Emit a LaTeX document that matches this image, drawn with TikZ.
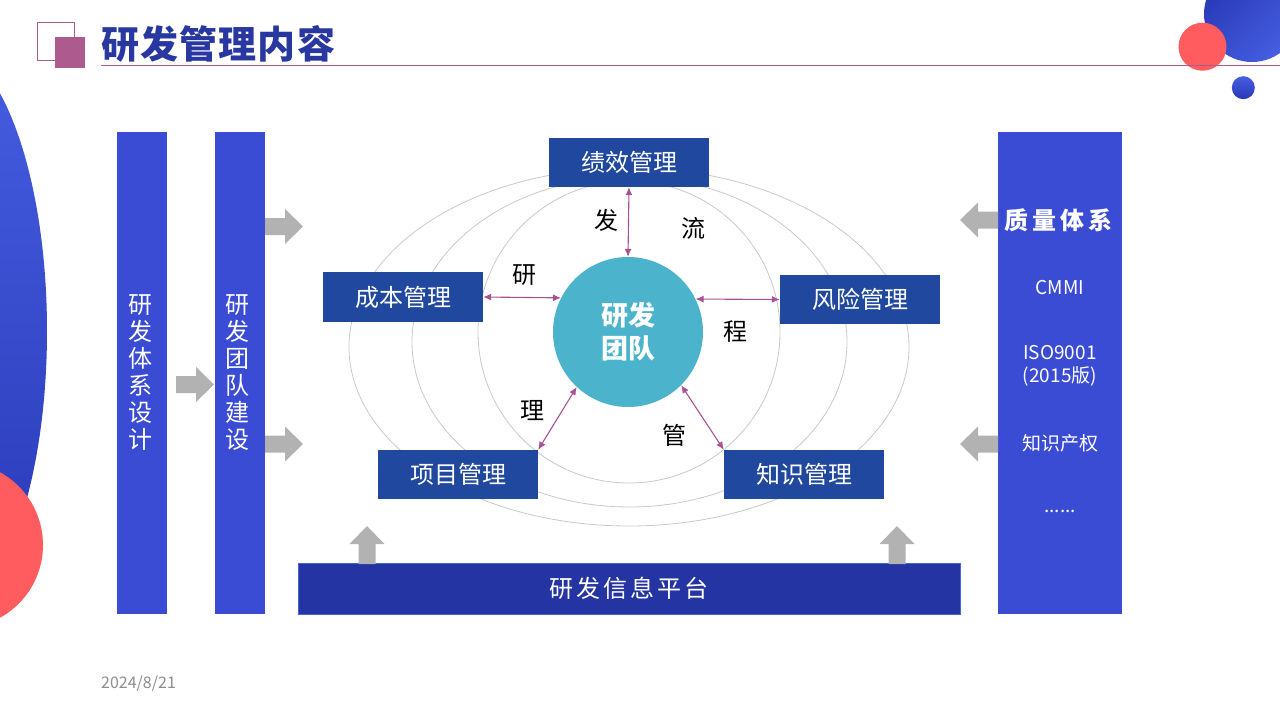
\documentclass[tikz,border=0pt]{standalone}
\usepackage{fontspec}
\setmainfont{Noto Sans CJK SC}
\usetikzlibrary{arrows.meta}
\definecolor{boxblue}{RGB}{31,72,158}
\definecolor{barblue}{RGB}{59,76,212}
\definecolor{platblue}{RGB}{36,53,163}
\definecolor{platedge}{RGB}{70,100,215}
\definecolor{teamteal}{RGB}{75,179,203}
\definecolor{linkmag}{RGB}{168,82,148}
\definecolor{ringgray}{RGB}{200,200,200}
\definecolor{arrowgray}{RGB}{178,178,178}
\definecolor{titleblue}{RGB}{40,56,160}
\definecolor{accentmag}{RGB}{173,90,142}
\definecolor{decored}{RGB}{255,92,96}
\definecolor{decobluetop}{RGB}{70,94,226}
\definecolor{decobluebot}{RGB}{40,56,182}
\definecolor{dategray}{RGB}{140,140,140}
\tikzset{
  mgmt/.style={fill=boxblue, text=white, minimum width=160pt, minimum height=49pt, inner sep=0pt, font=\fontsize{24}{28}\selectfont},
  ring/.style={draw=ringgray, line width=0.8pt},
  link/.style={draw=linkmag, line width=1.1pt, {Latex[length=8pt,width=7pt]}-{Latex[length=8pt,width=7pt]}},
  lbl/.style={inner sep=0pt, text=black, font=\fontsize{24}{28}\selectfont},
  bar/.style={fill=barblue, inner sep=0pt, minimum width=50pt, minimum height=482pt},
  bartxt/.style={text=white, inner sep=0pt, align=center, font=\fontsize{24}{27}\selectfont},
  paneltxt/.style={inner sep=0pt, text=white, align=center, font=\fontsize{19}{23}\selectfont},
  garrow/.pic={\fill[arrowgray] (-20,-8.5) -- (0,-8.5) -- (0,-17.5) -- (18,0) -- (0,17.5) -- (0,8.5) -- (-20,8.5) -- cycle;}
}
\begin{document}
\begin{tikzpicture}[x=1pt,y=-1pt]
\useasboundingbox (0,0) rectangle (1280,720);
% background decorations
\shade[top color=decobluetop, bottom color=decobluebot] (-60,331) ellipse[x radius=107pt, y radius=287pt];
\fill[decored] (-40,545) circle[radius=83pt];
\shade[left color=decobluebot, right color=decobluetop, shading angle=45] (1252,14) circle[radius=48pt];
\fill[decored] (1202.5,46.7) circle[radius=24pt];
\shade[top color=decobluetop, bottom color=decobluebot] (1243.3,87.7) circle[radius=11.5pt];
% title
\draw[accentmag, line width=0.8pt] (37,22) rectangle (74,60);
\fill[accentmag] (55,37) rectangle (85,68);
\node[anchor=west, inner sep=0pt, text=titleblue, font=\bfseries\fontsize{38}{40}\selectfont] (title) at (101,44) {研\kern1.2pt 发\kern1.2pt 管\kern1.2pt 理\kern1.2pt 内\kern1.2pt 容};
\coordinate (ulA) at (101,65.5);
\coordinate (ulB) at (1280,65.5);
\draw[accentmag, line width=1pt] (ulA) -- (ulB);
% rings
\draw[ring] (629,347) ellipse[x radius=280pt, y radius=179pt];
\draw[ring] (629.5,342) ellipse[x radius=217.5pt, y radius=165pt];
\draw[ring] (629,332) ellipse[x radius=151pt, y radius=151pt];
% boxes
\node[mgmt] (jx) at (629,162.5) {绩效管理};
\node[mgmt, minimum height=50pt] (cb) at (403,297) {成本管理};
\node[mgmt] (fx) at (860,299.5) {风险管理};
\node[mgmt] (xm) at (458,474.5) {项目管理};
\node[mgmt] (zs) at (804,474.5) {知识管理};
\node[circle, fill=teamteal, minimum size=150pt, inner sep=0pt, text=white, align=center, font=\bfseries\fontsize{27}{33}\selectfont] (team) at (628,332) {研发\\团队};
% links
\draw[link] (jx.south) -- (team.north);
\draw[link] (cb.east) -- (team.153);
\draw[link] (fx.west) -- (team.26);
\draw[link] (xm.north east) -- (team.227);
\draw[link] (zs.north west) -- (team.315);
% ring labels
\node[lbl] (c1) at (524,275) {研};
\node[lbl] (c2) at (606,220) {发};
\node[lbl] (c3) at (693,228) {流};
\node[lbl] (c4) at (735,332) {程};
\node[lbl] (c5) at (532,411) {理};
\node[lbl] (c6) at (674,435) {管};
% left bars
\node[bar] (b1) at (142,373) {};
\node[bartxt] (b1t) at (140,373) {研\\发\\体\\系\\设\\计};
\node[bar] (b2) at (240,373) {};
\node[bartxt] (b2t) at (237.5,373) {研\\发\\团\\队\\建\\设};
% right panel
\node[fill=barblue, inner sep=0pt, minimum width=124pt, minimum height=482pt] (qs) at (1060,373) {};
\node[paneltxt, font=\bfseries\fontsize{24}{28}\selectfont] (q1) at (1058.5,220) {质\kern4pt 量\kern4pt 体\kern4pt 系};
\node[paneltxt] (q2) at (1060,288) {CMMI};
\node[paneltxt] (q3) at (1060,366) {ISO9001\\(2015版)};
\node[paneltxt] (q4) at (1060,443) {知识产权};
\node[paneltxt] (q5) at (1060,511) {......};
% platform
\node[fill=platblue, draw=platedge, line width=0.8pt, inner sep=0pt, minimum width=662pt, minimum height=51pt, text=white, font=\fontsize{24}{28}\selectfont] (pt) at (629,588.5) {研\kern3pt 发\kern3pt 信\kern3pt 息\kern3pt 平\kern3pt 台};
% gray block arrows
\pic at (196,384.5) {garrow};
\pic at (285,226.5) {garrow};
\pic at (285,444) {garrow};
\pic[rotate=180] at (978,220) {garrow};
\pic[rotate=180] at (978,444) {garrow};
\pic[rotate=90] at (367,544) {garrow};
\pic[rotate=90] at (897,544) {garrow};
% date
\node[anchor=west, inner sep=0pt, text=dategray, font=\fontsize{16}{18}\selectfont] (date) at (101,684) {2024/8/21};
\end{tikzpicture}
\end{document}
